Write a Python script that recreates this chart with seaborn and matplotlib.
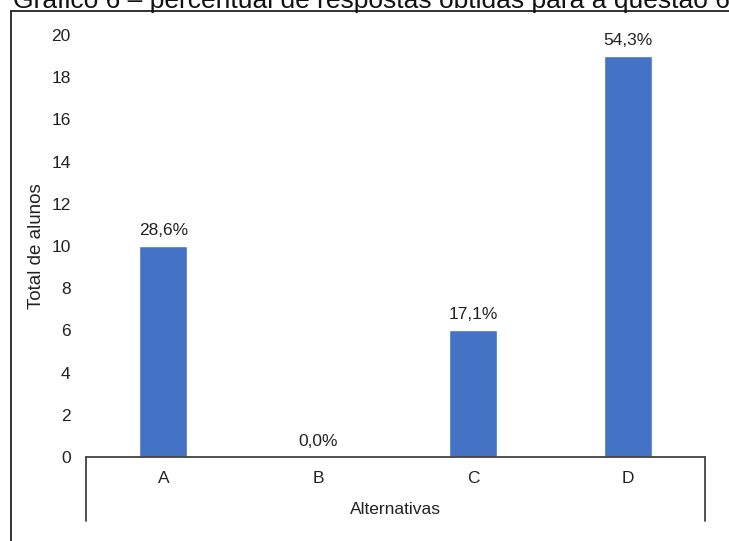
import matplotlib
matplotlib.use("Agg")
import matplotlib.pyplot as plt
import seaborn as sns
import pandas as pd
from matplotlib.patches import Rectangle
from matplotlib.lines import Line2D

# Respostas por alternativa
alternativas = ["A", "B", "C", "D"]
total_alunos = [10, 0, 6, 19]
percentuais = ["28,6%", "0,0%", "17,1%", "54,3%"]
titulo = "Gráfico 6 – percentual de respostas obtidas para a questão 6"

sns.set_style("white")
plt.rcParams["font.family"] = ["Liberation Sans", "DejaVu Sans"]

df = pd.DataFrame({"Alternativas": alternativas, "Total de alunos": total_alunos})

W, H = 729, 541
fig = plt.figure(figsize=(W / 100, H / 100), dpi=100)

# moldura externa
fig.patches.append(Rectangle((11 / W, -0.1), 1.2, 1 - 11 / H + 0.1,
                             transform=fig.transFigure, fill=False,
                             edgecolor="#222222", linewidth=1.3))
fig.text(13 / W, 1 - 8 / H, titulo, fontsize=19, ha="left", va="baseline",
         color="#111111")

ax = fig.add_axes([86 / W, (H - 457) / H, 619 / W, 422 / H])
sns.barplot(data=df, x="Alternativas", y="Total de alunos", color="#4472C4",
            width=0.31, saturation=1, ax=ax, order=alternativas)

ax.set_ylim(0, 20)
ax.set_yticks(range(0, 21, 2))
ax.tick_params(axis="both", length=0, labelsize=12.5, colors="#222222")
ax.tick_params(axis="y", pad=11)
ax.tick_params(axis="x", pad=10)

for s in ["top", "right", "left"]:
    ax.spines[s].set_visible(False)
ax.spines["bottom"].set_color("#444444")
ax.spines["bottom"].set_linewidth(1.3)

# linhas verticais da área de categorias
for xa in (0, 1):
    ax.add_line(Line2D([xa, xa], [0, -64 / 422], transform=ax.transAxes,
                       color="#444444", linewidth=1.3, clip_on=False))

ax.bar_label(ax.containers[0], labels=percentuais, padding=6, fontsize=12.5,
             color="#222222")

ax.set_xlabel("Alternativas", fontsize=12.5, color="#222222")
ax.set_ylabel("Total de alunos", fontsize=13.5, color="#222222")
ax.yaxis.set_label_coords(-(86 - 37) / 619, 0.5)
ax.xaxis.set_label_coords(0.5, -(510 - 457) / 422)
ax.xaxis.label.set_va("center")
ax.yaxis.label.set_va("center")

fig.savefig("out.png", dpi=100)
